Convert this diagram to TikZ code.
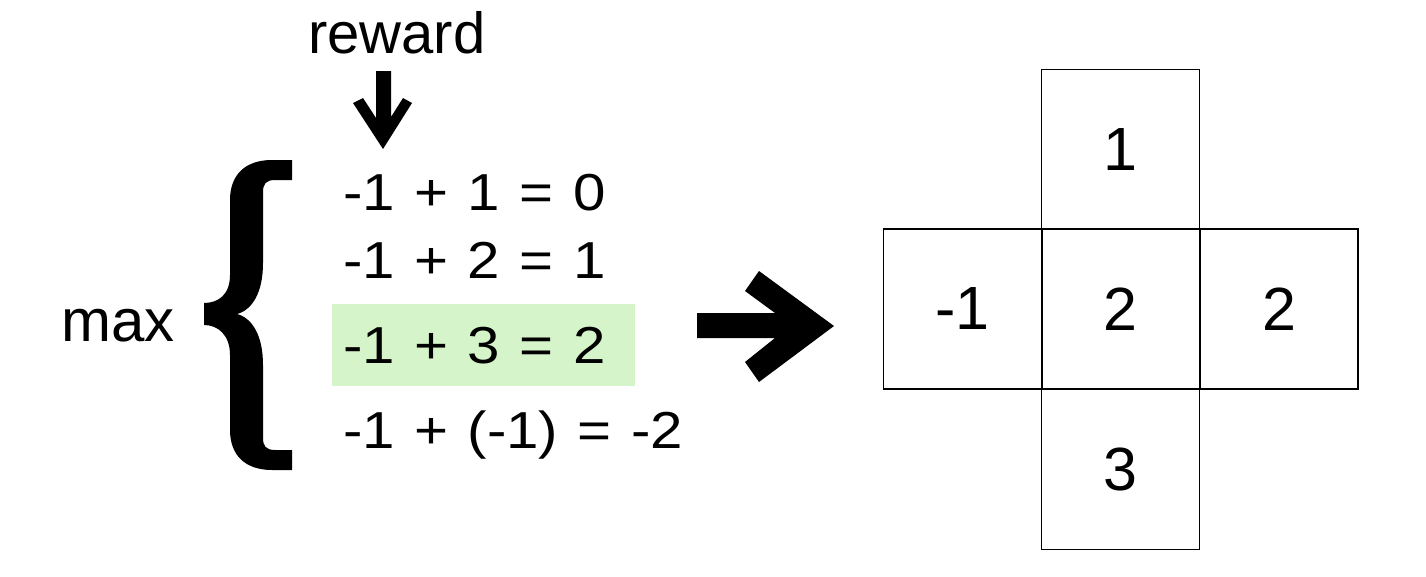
\documentclass[tikz,border=0pt]{standalone}
\usepackage{fontspec}
\setmainfont{Liberation Sans}
\newfontfamily\eqfont[FakeStretch=1.12,WordSpace=1.2]{Liberation Sans}
\definecolor{hlgreen}{RGB}{213,244,201}
\begin{document}
\begin{tikzpicture}[x=1pt,y=-1pt,
  cell/.style={draw=black,line width=1.5pt,minimum width=158pt,minimum height=160pt,inner sep=0pt,font=\fontsize{61}{73}\selectfont},
  eq/.style={anchor=base west,inner sep=0pt,font=\eqfont\fontsize{52}{62}\selectfont},
  lbl/.style={anchor=base west,inner sep=0pt,font=\fontsize{58}{70}\selectfont},
  blockarrow/.style={fill=black,draw=none}]
\useasboundingbox (0,0) rectangle (1426,576);

% highlight
\fill[hlgreen] (332,304) rectangle (635,386);

% labels
\node[lbl] (reward) at (308,53) {reward};
\node[lbl,font=\fontsize{60}{72}\selectfont] (max) at (61,341) {max};

% equations
\node[eq] (e1) at (343,210) {-1 + 1 = 0};
\node[eq] (e2) at (343,278) {-1 + 2 = 1};
\node[eq] (e3) at (343,363) {-1 + 3 = 2};
\node[eq] (e4) at (343,448) {-1 + (-1) = -2};

% brace
\fill[black] (292,160) -- (272,160)
  .. controls (245,160) and (230,175) .. (230,200)
  -- (230,275)
  .. controls (230,295) and (218,303) .. (204,303)
  -- (204,325)
  .. controls (218,325) and (230,335) .. (230,355)
  -- (230,430)
  .. controls (230,455) and (245,470) .. (272,470)
  -- (292,470) -- (292,450) -- (275,450)
  .. controls (266,450) and (263,446) .. (263,438)
  -- (263,365)
  .. controls (263,335) and (252,318) .. (237,314)
  .. controls (252,310) and (263,293) .. (263,263)
  -- (263,192)
  .. controls (263,184) and (266,180) .. (275,180)
  -- (292,180) -- cycle;

% down arrow
\fill[blockarrow] (376,71) -- (391,71) -- (391,117) -- (403,98) -- (412,103)
  -- (383,149) -- (353,103) -- (363,98) -- (376,118) -- cycle;

% right arrow
\fill[blockarrow] (697,313) -- (775,313) -- (745,291) -- (759,271) -- (834,326)
  -- (759,382) -- (745,362) -- (775,338) -- (697,338) -- cycle;

% grid cells
\node[cell] (top) at (1120.5,149.5) {1};
\node[cell] (left) at (962.5,309) {-1};
\node[cell] (right) at (1279,309) {2};
\node[cell] (bottom) at (1120.5,469.5) {3};
\node[cell,line width=2pt] (center) at (1120.5,309) {2};
\end{tikzpicture}
\end{document}
